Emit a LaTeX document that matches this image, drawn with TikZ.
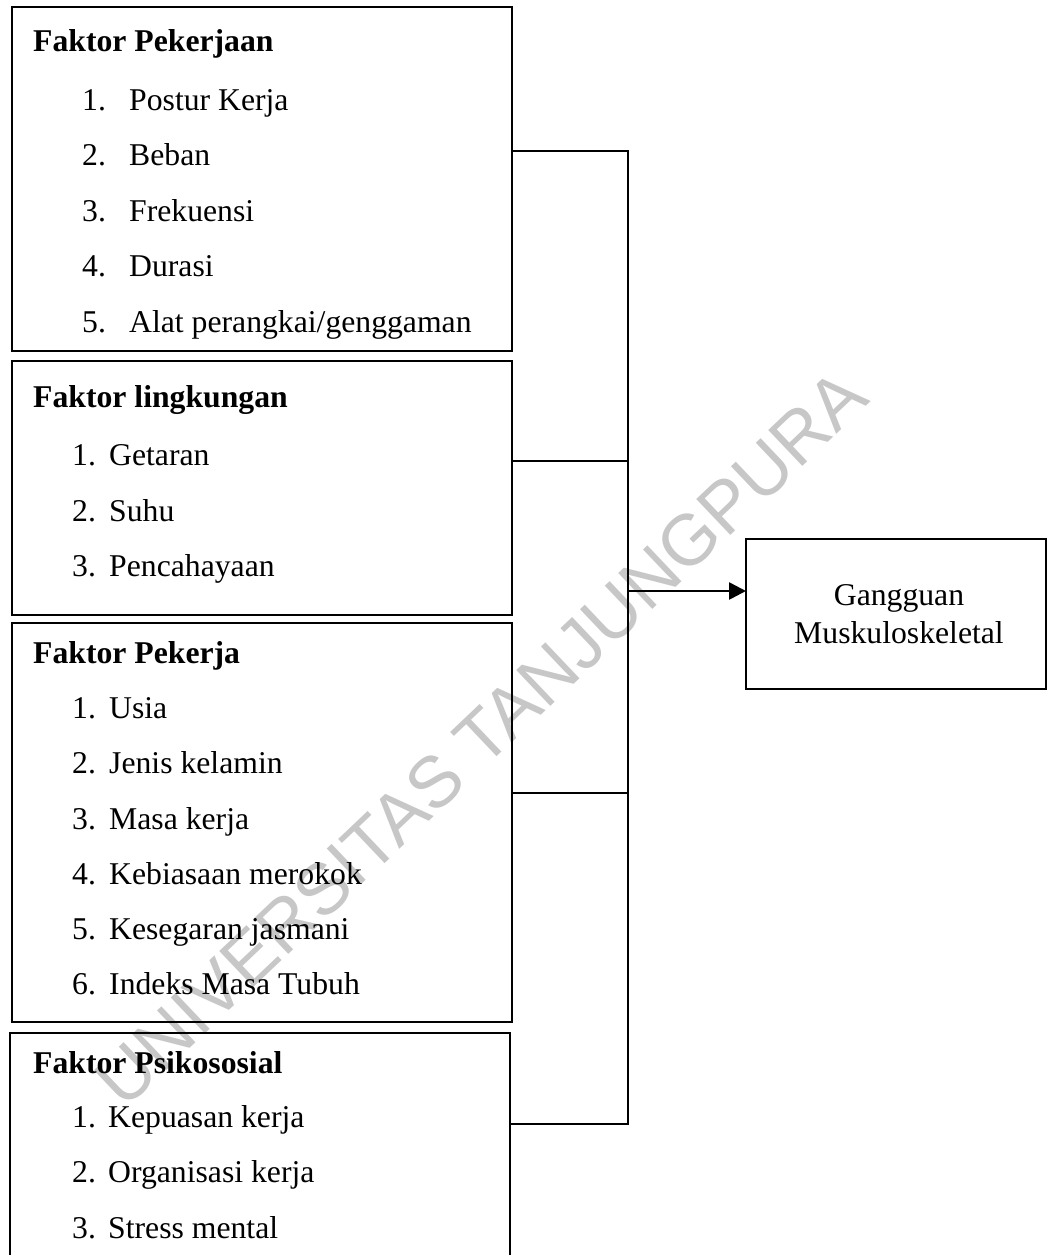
\documentclass[tikz,border=0pt]{standalone}
\usepackage{fontspec}
\setmainfont{Liberation Serif}
\newfontfamily\wmfont{Liberation Sans}
\usetikzlibrary{arrows.meta}
\begin{document}
\begin{tikzpicture}[x=1pt,y=-1pt,
  box/.style={draw, line width=1.8pt, inner sep=0pt, outer sep=0pt, anchor=north west},
  txt/.style={anchor=base west, inner sep=0pt, font=\fontsize{31.7}{38}\selectfont},
  ttl/.style={anchor=base west, inner sep=0pt, font=\bfseries\fontsize{31.7}{38}\selectfont},
  ctr/.style={anchor=base, inner sep=0pt, font=\fontsize{31.7}{38}\selectfont},
  conn/.style={line width=2.6pt},
  wm/.style={inner sep=0pt, text=black!22, font=\wmfont\fontsize{72}{72}\selectfont}]
\useasboundingbox (0,0) rectangle (1048,1255);
\clip (0,0) rectangle (1048,1255);
\fill[white] (0,0) rectangle (1048,1255);
% watermark
\node[wm, rotate=43.5] (wmk) at (481,738) {UNIVERSITAS TANJUNGPURA};
% boxes
\node[box, minimum width=500pt, minimum height=344pt] (b1) at (12,7) {};
\node[box, minimum width=500pt, minimum height=254pt] (b2) at (12,361) {};
\node[box, minimum width=500pt, minimum height=399pt] (b3) at (12,623) {};
\node[box, minimum width=500pt, minimum height=240pt] (b4) at (10,1033) {};
\node[box, minimum width=300pt, minimum height=150pt] (tgt) at (746,539) {};
% box 1
\node[ttl] (t1) at (33,52) {Faktor Pekerjaan};
\node[txt] (n1a) at (82,110) {1.}; \node[txt] (i1a) at (129,110) {Postur Kerja};
\node[txt] (n1b) at (82,165) {2.}; \node[txt] (i1b) at (129,165) {Beban};
\node[txt] (n1c) at (82,221) {3.}; \node[txt] (i1c) at (129,221) {Frekuensi};
\node[txt] (n1d) at (82,276) {4.}; \node[txt] (i1d) at (129,276) {Durasi};
\node[txt] (n1e) at (82,332) {5.}; \node[txt] (i1e) at (129,332) {Alat perangkai/genggaman};
% box 2
\node[ttl] (t2) at (33,407) {Faktor lingkungan};
\node[txt] (n2a) at (72,465) {1.}; \node[txt] (i2a) at (109,465) {Getaran};
\node[txt] (n2b) at (72,521) {2.}; \node[txt] (i2b) at (109,521) {Suhu};
\node[txt] (n2c) at (72,576) {3.}; \node[txt] (i2c) at (109,576) {Pencahayaan};
% box 3
\node[ttl] (t3) at (33,663) {Faktor Pekerja};
\node[txt] (n3a) at (72,718) {1.}; \node[txt] (i3a) at (109,718) {Usia};
\node[txt] (n3b) at (72,773) {2.}; \node[txt] (i3b) at (109,773) {Jenis kelamin};
\node[txt] (n3c) at (72,829) {3.}; \node[txt] (i3c) at (109,829) {Masa kerja};
\node[txt] (n3d) at (72,884) {4.}; \node[txt] (i3d) at (109,884) {Kebiasaan merokok};
\node[txt] (n3e) at (72,939) {5.}; \node[txt] (i3e) at (109,939) {Kesegaran jasmani};
\node[txt] (n3f) at (72,994) {6.}; \node[txt] (i3f) at (109,994) {Indeks Masa Tubuh};
% box 4
\node[ttl] (t4) at (33,1073) {Faktor Psikososial};
\node[txt] (n4a) at (72,1127) {1.}; \node[txt] (i4a) at (108,1127) {Kepuasan kerja};
\node[txt] (n4b) at (72,1182) {2.}; \node[txt] (i4b) at (108,1182) {Organisasi kerja};
\node[txt] (n4c) at (72,1238) {3.}; \node[txt] (i4c) at (108,1238) {Stress mental};
% target text
\node[ctr] (g1) at (899,605) {Gangguan};
\node[ctr] (g2) at (899,643) {Muskuloskeletal};
% connectors
\coordinate (j1) at (628,151);
\coordinate (j2) at (628,461);
\coordinate (jm) at (628,591);
\coordinate (j3) at (628,793);
\coordinate (j4) at (628,1124);
\draw[conn] (b1.east |- j1) -- (j1);
\draw[conn] (b2.east |- j2) -- (j2);
\draw[conn] (b3.east |- j3) -- (j3);
\draw[conn] (b4.east |- j4) -- (j4);
\draw[conn, line cap=rect] (j1) -- (j4);
\draw[conn, -{Triangle[length=17pt,width=17pt]}] (jm) -- (tgt.west |- jm);
\end{tikzpicture}
\end{document}
